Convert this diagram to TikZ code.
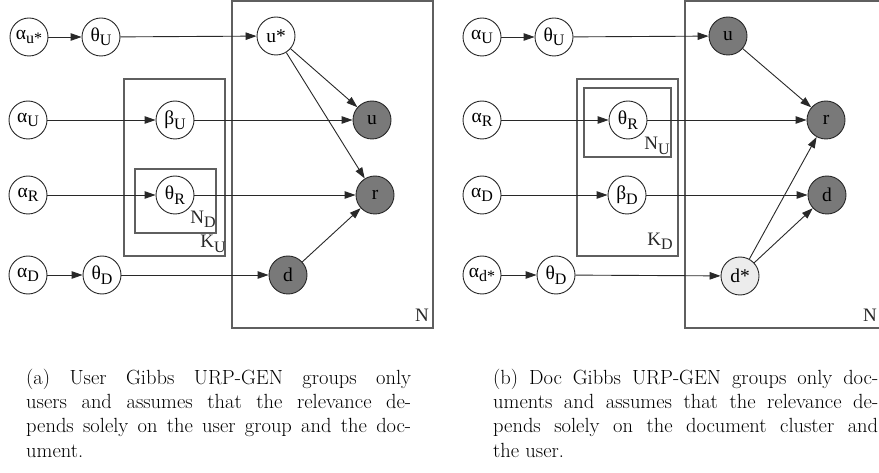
\documentclass[tikz,border=0pt]{standalone}
\usepackage{fontspec}
\newfontfamily\gv{Liberation Serif}
\usetikzlibrary{arrows.meta}
\definecolor{obs}{RGB}{121,121,121}
\definecolor{half}{RGB}{236,236,236}
\definecolor{ink}{RGB}{40,40,40}
\definecolor{platec}{RGB}{95,95,95}
% lowered, smaller index in the node labels
\newcommand\gvsub[1]{\raisebox{-0.5ex}{\fontsize{16}{16}\selectfont #1}}
% one caption line spread to the full column width
\newcommand\fitline[1]{\makebox[385pt][s]{#1}}
\begin{document}
\begin{tikzpicture}[x=1pt,y=-1pt,
  var/.style={circle, draw=ink, line width=0.9pt, minimum size=38pt, inner sep=0pt,
              font=\gv\fontsize{19.5}{19.5}\selectfont, fill=white},
  seen/.style={var, fill=obs},
  part/.style={var, fill=half},
  edge/.style={draw=ink, line width=0.9pt, -{Triangle[length=11pt,width=7.5pt]}},
  platebox/.style={draw=platec, line width=1.2pt},
  platelab/.style={font=\gv\fontsize{19}{19}\selectfont, inner sep=0pt, text=ink},
  capt/.style={anchor=north west, inner sep=0pt, align=left,
               font=\fontsize{20.5}{24.2}\selectfont}]
\useasboundingbox[fill=white] (0,0) rectangle (879,473);

% ---------- (a) User Gibbs URP-GEN ----------
\draw[platebox] (232,1) rectangle (433,328);
\draw[platebox] (124,79) rectangle (225,256);
\draw[platebox] (135,169) rectangle (216,233);
\node[platelab] (aN)  at (422,315) {N};
\node[platelab] (aND) at (203,219) {N\gvsub{D}};
\node[platelab] (aKU) at (213,244) {K\gvsub{U}};

\node[var]  (aaus) at (29,37)   {α\gvsub{u*}};
\node[var]  (atU)  at (101,37)  {θ\gvsub{U}};
\node[var]  (aus)  at (276,36)  {u*};
\node[var]  (aaU)  at (28,120)  {α\gvsub{U}};
\node[var]  (abU)  at (175,120) {β\gvsub{U}};
\node[seen] (au)   at (372,120) {u};
\node[var]  (aaR)  at (28,195)  {α\gvsub{R}};
\node[var]  (atR)  at (175,195) {θ\gvsub{R}};
\node[seen] (ar)   at (375,195) {r};
\node[var]  (aaD)  at (28,275)  {α\gvsub{D}};
\node[var]  (atD)  at (102,275) {θ\gvsub{D}};
\node[seen] (ad)   at (288,275) {d};

\draw[edge] (aaus) -- (atU);
\draw[edge] (atU) -- (aus);
\draw[edge] (aus) -- (au);
\draw[edge] (aus) -- (ar);
\draw[edge] (aaU) -- (abU);
\draw[edge] (abU) -- (au);
\draw[edge] (aaR) -- (atR);
\draw[edge] (atR) -- (ar);
\draw[edge] (aaD) -- (atD);
\draw[edge] (atD) -- (ad);
\draw[edge] (ad) -- (ar);

% ---------- (b) Doc Gibbs URP-GEN ----------
\draw[platebox] (685,1) rectangle (900,328);
\draw[platebox] (577,79) rectangle (678,256);
\draw[platebox] (584,88) rectangle (671,157);
\node[platelab] (bN)  at (870,315) {N};
\node[platelab] (bNU) at (657,146) {N\gvsub{U}};
\node[platelab] (bKD) at (660,241) {K\gvsub{D}};

\node[var]  (baU)  at (482,37)  {α\gvsub{U}};
\node[var]  (btU)  at (554,37)  {θ\gvsub{U}};
\node[seen] (bu)   at (728,36)  {u};
\node[var]  (baR)  at (482,120) {α\gvsub{R}};
\node[var]  (btR)  at (628,120) {θ\gvsub{R}};
\node[seen] (br)   at (826,120) {r};
\node[var]  (baD)  at (482,195) {α\gvsub{D}};
\node[var]  (bbD)  at (627,195) {β\gvsub{D}};
\node[seen] (bd)   at (827,195) {d};
\node[var]  (bads) at (482,275) {α\gvsub{d*}};
\node[var]  (btD)  at (556,275) {θ\gvsub{D}};
\node[part] (bds)  at (740,276) {d*};

\draw[edge] (baU) -- (btU);
\draw[edge] (btU) -- (bu);
\draw[edge] (bu) -- (br);
\draw[edge] (baR) -- (btR);
\draw[edge] (btR) -- (br);
\draw[edge] (baD) -- (bbD);
\draw[edge] (bbD) -- (bd);
\draw[edge] (bads) -- (btD);
\draw[edge] (btD) -- (bds);
\draw[edge] (bds) -- (br);
\draw[edge] (bds) -- (bd);

% ---------- captions ----------
\node[capt] (capa) at (26,369) {%
  \fitline{(a) User Gibbs URP-GEN groups only}\\
  \fitline{users and assumes that the relevance de-}\\
  \fitline{pends solely on the user group and the doc-}\\
  ument.};
\node[capt] (capb) at (493,369) {%
  \fitline{(b) Doc Gibbs URP-GEN groups only doc-}\\
  \fitline{uments and assumes that the relevance de-}\\
  \fitline{pends solely on the document cluster and}\\
  the user.};
\end{tikzpicture}
\end{document}
